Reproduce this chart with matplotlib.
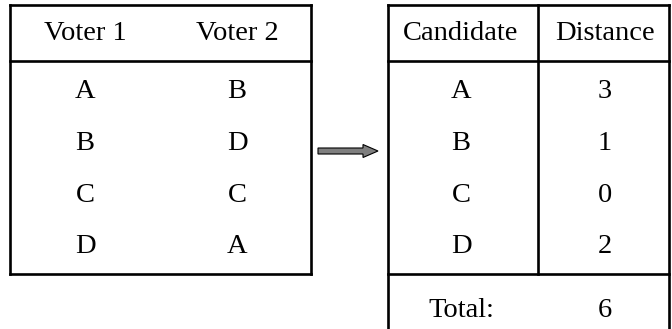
import matplotlib
matplotlib.use("Agg")
import matplotlib.pyplot as plt
from matplotlib.patches import FancyArrow

# Data
voter_headers = ["Voter 1", "Voter 2"]
voter1 = ["A", "B", "C", "D"]
voter2 = ["B", "D", "C", "A"]
dist_headers = ["Candidate", "Distance"]
candidates = ["A", "B", "C", "D"]
distances = [3, 1, 0, 2]
total_label = "Total:"
total_value = sum(distances)

plt.rcParams["font.family"] = ["Liberation Serif", "DejaVu Serif"]

W, H = 672, 329
fig = plt.figure(figsize=(W / 100, H / 100), dpi=100)
ax = fig.add_axes([0, 0, 1, 1])
ax.set_xlim(0, W)
ax.set_ylim(H, 0)
ax.axis("off")

fs = 20.5
lw = 1.9
col = "black"

def line(x0, y0, x1, y1):
    ax.plot([x0, x1], [y0, y1], color=col, lw=lw, solid_capstyle="projecting")

# Left table geometry
L0, L1 = 10, 311
top, head, bot = 5, 61, 274
line(L0, top, L1, top)
line(L0, head, L1, head)
line(L0, bot, L1, bot)
line(L0, top, L0, bot)
line(L1, top, L1, bot)

# Right table geometry
R0, Rm, R1 = 388, 538, 669
rbot = 330
line(R0, top, R1, top)
line(R0, head, R1, head)
line(R0, bot, R1, bot)
line(R0, top, R0, rbot)
line(R1, top, R1, rbot)
line(Rm, top, Rm, bot)

header_base = 40
row_bases = [98, 150, 202, 253]
total_base = 317

lx = [85, 237]
rx = [461, 605]

for i, h in enumerate(voter_headers):
    ax.text(lx[i], header_base, h, ha="center", va="baseline", fontsize=fs)
for i, h in enumerate(dist_headers):
    ax.text(rx[i], header_base, h, ha="center", va="baseline", fontsize=fs)

for j in range(4):
    ax.text(lx[0], row_bases[j], voter1[j], ha="center", va="baseline", fontsize=fs)
    ax.text(lx[1], row_bases[j], voter2[j], ha="center", va="baseline", fontsize=fs)
    ax.text(rx[0], row_bases[j], candidates[j], ha="center", va="baseline", fontsize=fs)
    ax.text(rx[1], row_bases[j], str(distances[j]), ha="center", va="baseline", fontsize=fs)

ax.text(rx[0], total_base, total_label, ha="center", va="baseline", fontsize=fs)
ax.text(rx[1], total_base, str(total_value), ha="center", va="baseline", fontsize=fs)

# Arrow
arr = FancyArrow(318, 151, 60, 0, width=6, head_width=13, head_length=15,
                 length_includes_head=True, facecolor="#7f7f7f", edgecolor="black", lw=0.8)
ax.add_patch(arr)

fig.savefig("out.png", dpi=100)
